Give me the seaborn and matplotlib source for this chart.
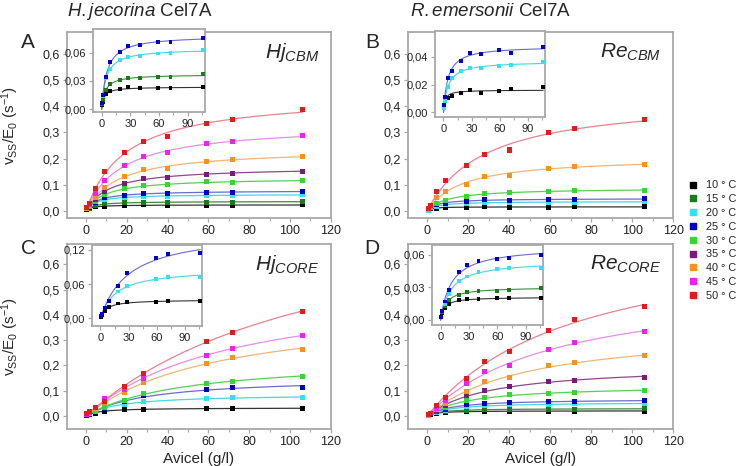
import numpy as np
import pandas as pd
import seaborn as sns
from matplotlib import pyplot as plt
from matplotlib.lines import Line2D
from matplotlib.ticker import MultipleLocator, FuncFormatter

# temperatures and colours
temps = [10, 15, 20, 25, 30, 35, 40, 45, 50]
point_colors = ['#000000', '#1b7a1b', '#33e0f2', '#0000c8', '#33d633',
                '#7a1a7a', '#f7921e', '#f020f0', '#e01c1c']
line_colors = ['#333333', '#3c8c3c', '#45d5e5', '#6a6ad2', '#55d055',
               '#8c4a8c', '#f2b47a', '#e48ee8', '#e98290']

# Avicel loadings (g/l)
x_abd = [0.5, 1.5, 4.5, 9, 19, 28, 40, 59, 72, 106]
x_c = [0.5, 1.5, 4.5, 9, 19, 28, 59, 72, 106]

# panel A: H.jecorina Cel7A, CBM
a10 = [0.004, 0.008, 0.016, 0.019, 0.021, 0.023, 0.022, 0.022, 0.022, 0.023]
a15 = [0.005, 0.010, 0.020, 0.027, 0.031, 0.033, 0.033, 0.034, 0.034, 0.037]
a20 = [0.006, 0.014, 0.033, 0.043, 0.052, 0.055, 0.056, 0.059, 0.060, 0.063]
a25 = [0.007, 0.015, 0.034, 0.050, 0.061, 0.067, 0.068, 0.071, 0.071, 0.075]
a30 = [0.008, 0.018, 0.038, 0.062, 0.085, 0.096, 0.101, 0.112, 0.110, 0.115]
a35 = [0.009, 0.020, 0.045, 0.073, 0.106, 0.125, 0.129, 0.141, 0.144, 0.152]
a40 = [0.010, 0.022, 0.052, 0.090, 0.130, 0.157, 0.163, 0.189, 0.196, 0.210]
a45 = [0.012, 0.025, 0.065, 0.118, 0.172, 0.207, 0.222, 0.256, 0.266, 0.287]
a50 = [0.015, 0.028, 0.085, 0.150, 0.222, 0.265, 0.283, 0.333, 0.350, 0.388]

# panel B: R.emersonii Cel7A, CBM
b10 = [0.005, 0.009, 0.010, 0.012, 0.014, 0.016, 0.014, 0.015, 0.017, 0.018]
b20 = [0.003, 0.008, 0.018, 0.025, 0.030, 0.032, 0.032, 0.033, 0.034, 0.036]
b25 = [0.005, 0.011, 0.025, 0.030, 0.037, 0.043, 0.042, 0.045, 0.043, 0.047]
b30 = [0.006, 0.013, 0.030, 0.040, 0.055, 0.066, 0.069, 0.076, 0.078, 0.080]
b40 = [0.007, 0.016, 0.050, 0.075, 0.102, 0.132, 0.137, 0.163, 0.171, 0.179]
b50 = [0.008, 0.022, 0.074, 0.117, 0.172, 0.215, 0.233, 0.300, 0.315, 0.350]

# panel C: H.jecorina Cel7A, core
c10 = [0.003, 0.006, 0.012, 0.020, 0.026, 0.028, 0.029, 0.030, 0.030]
c20 = [0.004, 0.008, 0.018, 0.030, 0.047, 0.057, 0.069, 0.073, 0.073]
c25 = [0.004, 0.008, 0.018, 0.031, 0.057, 0.080, 0.106, 0.113, 0.114]
c30 = [0.005, 0.009, 0.020, 0.035, 0.063, 0.088, 0.128, 0.138, 0.158]
c40 = [0.007, 0.012, 0.028, 0.052, 0.092, 0.133, 0.208, 0.232, 0.265]
c45 = [0.008, 0.014, 0.032, 0.068, 0.106, 0.150, 0.240, 0.266, 0.320]
c50 = [0.012, 0.018, 0.035, 0.056, 0.118, 0.170, 0.294, 0.331, 0.415]

# panel D: R.emersonii Cel7A, core
d10 = [0.003, 0.006, 0.011, 0.015, 0.018, 0.019, 0.019, 0.020, 0.020, 0.020]
d15 = [0.003, 0.007, 0.013, 0.018, 0.023, 0.026, 0.027, 0.027, 0.028, 0.029]
d20 = [0.003, 0.008, 0.015, 0.024, 0.036, 0.040, 0.044, 0.047, 0.048, 0.048]
d25 = [0.003, 0.008, 0.017, 0.028, 0.044, 0.051, 0.054, 0.056, 0.057, 0.060]
d30 = [0.004, 0.009, 0.018, 0.033, 0.060, 0.075, 0.085, 0.090, 0.093, 0.100]
d35 = [0.004, 0.009, 0.020, 0.040, 0.080, 0.100, 0.115, 0.138, 0.142, 0.153]
d40 = [0.004, 0.010, 0.025, 0.050, 0.098, 0.135, 0.153, 0.198, 0.210, 0.238]
d45 = [0.005, 0.010, 0.030, 0.060, 0.128, 0.178, 0.200, 0.263, 0.290, 0.335]
d50 = [0.005, 0.010, 0.040, 0.075, 0.148, 0.215, 0.255, 0.340, 0.380, 0.432]

panels = {
    'A': (x_abd, {10: a10, 15: a15, 20: a20, 25: a25, 30: a30, 35: a35, 40: a40, 45: a45, 50: a50}),
    'B': (x_abd, {10: b10, 20: b20, 25: b25, 30: b30, 40: b40, 50: b50}),
    'C': (x_c, {10: c10, 20: c20, 25: c25, 30: c30, 40: c40, 45: c45, 50: c50}),
    'D': (x_abd, {10: d10, 15: d15, 20: d20, 25: d25, 30: d30, 35: d35, 40: d40, 45: d45, 50: d50}),
}
inset_temps = {'A': [10, 15, 20, 25], 'B': [10, 20, 25], 'C': [10, 20, 25], 'D': [10, 15, 20, 25]}
inset_ticks = {'A': [0, 0.03, 0.06], 'B': [0, 0.02, 0.04], 'C': [0, 0.06, 0.12], 'D': [0, 0.03, 0.06]}
inset_ylim = {'A': (-0.003, 0.085), 'B': (-0.0034, 0.0585), 'C': (-0.0135, 0.1286), 'D': (-0.0046, 0.069)}
corner = {'A': r'$\mathit{Hj}_{\mathit{CBM}}$', 'B': r'$\mathit{Re}_{\mathit{CBM}}$',
          'C': r'$\mathit{Hj}_{\mathit{CORE}}$', 'D': r'$\mathit{Re}_{\mathit{CORE}}$'}

pal_pts = dict(zip(temps, point_colors))
pal_lines = dict(zip(temps, line_colors))


def mm_fit(x, y):
    # least-squares Michaelis-Menten fit, Vmax solved for each Km on a grid
    x = np.asarray(x, float)
    y = np.asarray(y, float)
    best = None
    for km in np.logspace(-1, 3, 600):
        f = x / (km + x)
        vmax = (f * y).sum() / (f * f).sum()
        sse = ((vmax * f - y) ** 2).sum()
        if best is None or sse < best[0]:
            best = (sse, vmax, km)
    xs = np.linspace(0, max(x), 200)
    return xs, best[1] * xs / (best[2] + xs)


def long_frames(key, only=None):
    xv, curves = panels[key]
    pts, fits = [], []
    for t, ys in curves.items():
        if only is not None and t not in only:
            continue
        pts.append(pd.DataFrame({'x': xv, 'v': ys, 'T': t}))
        xs, ys_fit = mm_fit(xv, ys)
        fits.append(pd.DataFrame({'x': xs, 'v': ys_fit, 'T': t}))
    return pd.concat(pts), pd.concat(fits)


sns.set_style('ticks')
plt.rcParams['font.family'] = ['Liberation Sans', 'DejaVu Sans']
plt.rcParams['mathtext.fontset'] = 'custom'
plt.rcParams['mathtext.rm'] = 'Liberation Sans'
plt.rcParams['mathtext.it'] = 'Liberation Sans:italic'

frame_col = '#a8a8a8'
comma = lambda d: FuncFormatter(lambda v, p: f'{v:.{d}f}'.replace('.', ','))


def style_axes(ax, fs):
    for s in ax.spines.values():
        s.set_color(frame_col)
        s.set_linewidth(1.3)
        s.set_visible(True)
    ax.tick_params(direction='out', color=frame_col, labelsize=fs, labelcolor='#222222',
                   length=3, width=0.9, pad=2)
    ax.tick_params(which='minor', direction='out', color=frame_col, length=2, width=0.8)
    ax.set_xlabel('')
    ax.set_ylabel('')


def draw(ax, key, only=None, ms=13, lw=0.9):
    pts, fits = long_frames(key, only)
    sns.lineplot(data=fits, x='x', y='v', hue='T', palette=pal_lines, ax=ax,
                 legend=False, linewidth=lw)
    sns.scatterplot(data=pts, x='x', y='v', hue='T', palette=pal_pts, ax=ax,
                    legend=False, marker='s', s=ms, linewidth=0, zorder=3)


fig = plt.figure(figsize=(7.45, 4.66), dpi=100)
main_pos = {'A': [0.0899, 0.532, 0.354, 0.399], 'B': [0.5477, 0.532, 0.356, 0.399],
            'C': [0.0899, 0.0794, 0.354, 0.397], 'D': [0.5477, 0.0794, 0.356, 0.397]}
inset_pos = {'A': [0.1248, 0.7597, 0.1503, 0.1781], 'B': [0.5839, 0.7489, 0.1477, 0.1845],
             'C': [0.1235, 0.3004, 0.1477, 0.1738], 'D': [0.5799, 0.3026, 0.1490, 0.1717]}
main_ylim = {'A': (-0.027, 0.683), 'B': (-0.027, 0.683), 'C': (-0.051, 0.68), 'D': (-0.051, 0.68)}

for key in 'ABCD':
    ax = fig.add_axes(main_pos[key])
    draw(ax, key)
    ax.set_xlim(-9.3, 120)
    ax.set_ylim(*main_ylim[key])
    ax.set_xticks(range(0, 121, 20))
    ax.xaxis.set_minor_locator(MultipleLocator(10))
    ax.set_yticks(np.arange(0, 0.61, 0.1))
    ax.yaxis.set_major_formatter(comma(1))
    style_axes(ax, 9)
    ax.text(0.955, 0.89, corner[key], transform=ax.transAxes, ha='right', va='center', fontsize=15)
    if key in 'AC':
        ax.set_ylabel(r'v$_{\mathrm{SS}}$/E$_0$ (s$^{-1}$)', fontsize=11)
        ax.yaxis.set_label_coords(-0.175, 0.5)
    if key in 'CD':
        ax.set_xlabel('Avicel (g/l)', fontsize=11, labelpad=3)

    ins = fig.add_axes(inset_pos[key])
    draw(ins, key, inset_temps[key], ms=8, lw=0.8)
    ins.set_xlim(-9, 108)
    ins.set_ylim(*inset_ylim[key])
    ins.set_xticks([0, 30, 60, 90])
    ins.xaxis.set_minor_locator(MultipleLocator(15))
    ins.set_yticks(inset_ticks[key])
    ins.yaxis.set_major_formatter(comma(2))
    style_axes(ins, 8)
    ins.set_facecolor('white')

# panel letters and titles
for key, (px, py) in {'A': (28, 42), 'B': (372, 42), 'C': (29, 248), 'D': (372, 248)}.items():
    fig.text(px / 745, 1 - py / 466, key, fontsize=15, ha='center', va='center')
fig.text(67 / 745, 1 - 12 / 466, r'$\mathit{H.jecorina}$ Cel7A', fontsize=13.5, ha='left', va='center')
fig.text(410 / 745, 1 - 12 / 466, r'$\mathit{R.emersonii}$ Cel7A', fontsize=13.5, ha='left', va='center')

handles = [Line2D([], [], marker='s', linestyle='none', color=c, markersize=4.5) for c in point_colors]
labels = [f'{t} ° C' for t in temps]
fig.legend(handles, labels, loc='upper left', bbox_to_anchor=(684 / 745, 1 - 175 / 466),
           frameon=False, fontsize=7.8, handlelength=0.7, handletextpad=0.8,
           labelspacing=0.35, borderpad=0, labelcolor='#222222')

fig.savefig('out.png', dpi=100)
